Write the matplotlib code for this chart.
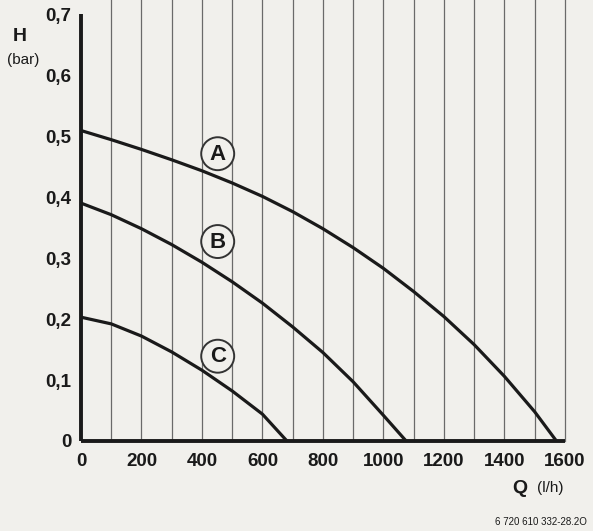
import matplotlib.pyplot as plt
from matplotlib.patches import Ellipse

plt.rcParams['font.family'] = ['Liberation Sans', 'DejaVu Sans']

# pump curves, Q in l/h, H in bar
q_a = [0, 100, 200, 300, 400, 500, 600, 700, 800, 900, 1000, 1100, 1200, 1300, 1400, 1500, 1572]
h_a = [0.509, 0.494, 0.478, 0.461, 0.443, 0.423, 0.401, 0.376, 0.348, 0.317, 0.283, 0.245, 0.204, 0.158, 0.106, 0.048, 0.0]

q_b = [0, 100, 200, 300, 400, 500, 600, 700, 800, 900, 1000, 1075]
h_b = [0.390, 0.371, 0.348, 0.322, 0.293, 0.261, 0.226, 0.187, 0.145, 0.097, 0.042, 0.0]

q_c = [0, 100, 200, 300, 400, 500, 600, 681]
h_c = [0.203, 0.192, 0.172, 0.146, 0.116, 0.082, 0.044, 0.0]

curve_names = ['A', 'B', 'C']
label_q = [452, 452, 452]
label_h = [0.471, 0.327, 0.139]

x_ticks = list(range(0, 1601, 200))
y_ticks = [0, 0.1, 0.2, 0.3, 0.4, 0.5, 0.6, 0.7]
y_labels = ['0', '0,1', '0,2', '0,3', '0,4', '0,5', '0,6', '0,7']

bg = '#f1f0ec'
ink = '#1a1a1a'
fig = plt.figure(figsize=(5.93, 5.31), dpi=100, facecolor=bg)
ax = fig.add_axes([0.1366, 0.1695, 0.816, 0.8305])
ax.set_facecolor(bg)

ax.set_xlim(0, 1600)
ax.set_ylim(0, 0.723)

# vertical grid every 100 l/h
for q in range(100, 1601, 100):
    ax.axvline(q, color='#6a6a6a', lw=0.9, zorder=1, clip_on=False)

ax.plot([0, 0], [0, 0.7], color=ink, lw=2.8, zorder=3, solid_capstyle='butt', clip_on=False)
ax.plot([0, 1600], [0, 0], color=ink, lw=2.8, zorder=3, solid_capstyle='butt', clip_on=False)

for q, h in [(q_a, h_a), (q_b, h_b), (q_c, h_c)]:
    ax.plot(q, h, color=ink, lw=2.3, zorder=4, solid_capstyle='round', solid_joinstyle='round')

for name, lq, lh in zip(curve_names, label_q, label_h):
    ax.add_patch(Ellipse((lq, lh), 109, 0.054, facecolor=bg, edgecolor='#333333', lw=1.4, zorder=5))
    ax.text(lq, lh - 0.001, name, ha='center', va='center', fontsize=16, fontweight='bold', color=ink, zorder=6)

for s in ax.spines.values():
    s.set_visible(False)
ax.set_xticks(x_ticks)
ax.set_xticklabels([str(v) for v in x_ticks], fontsize=13.5, fontweight='bold')
ax.set_yticks(y_ticks)
ax.set_yticklabels(y_labels, fontsize=13.5, fontweight='bold')
ax.tick_params(length=0, colors=ink)
ax.tick_params(axis='x', pad=9)
ax.tick_params(axis='y', pad=7)

fig.text(0.022, 0.922, 'H', fontsize=14, fontweight='bold', color=ink)
fig.text(0.012, 0.880, '(bar)', fontsize=11, color=ink)
fig.text(0.863, 0.071, 'Q', fontsize=14, fontweight='bold', color=ink)
fig.text(0.906, 0.073, '(l/h)', fontsize=11, color=ink)
fig.text(0.990, 0.012, '6 720 610 332-28.2O', fontsize=7, ha='right', color=ink)

fig.savefig('out.png', dpi=100, facecolor=bg)
